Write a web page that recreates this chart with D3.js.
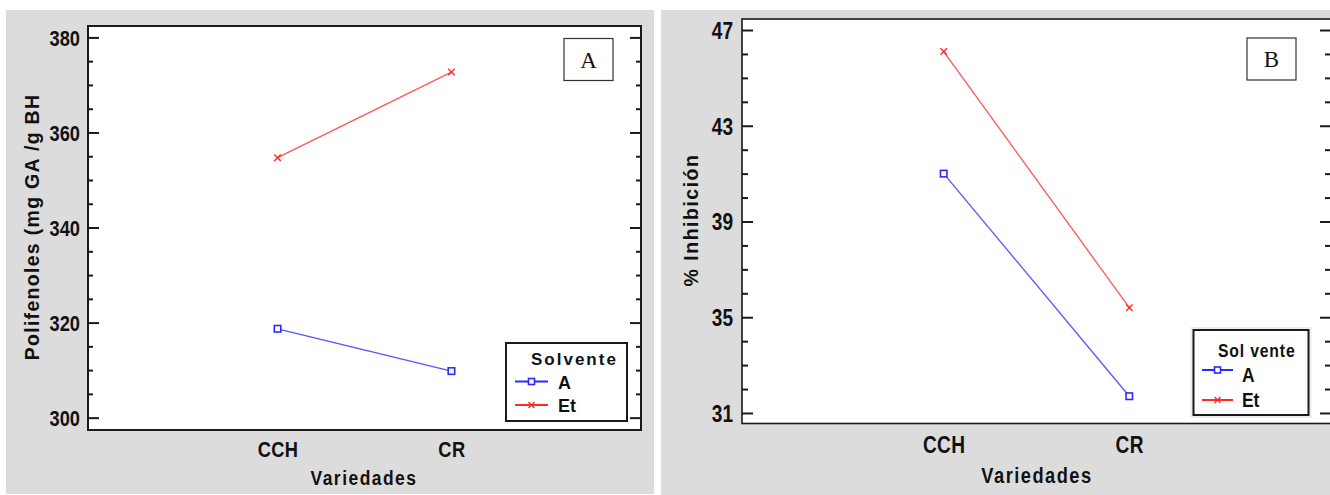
<!DOCTYPE html>
<html>
<head>
<meta charset="utf-8">
<script src="https://cdn.jsdelivr.net/npm/d3@7"></script>
<style>
  html, body { margin: 0; padding: 0; background: #ffffff; }
  svg { display: block; }
  .narrow { font-family: "Liberation Sans", Arial, sans-serif; font-weight: bold; transform-box: fill-box; transform: scaleX(0.83); }
  .nr { transform-origin: right center; }
  .nc { transform-origin: center center; }
  .nl { transform-origin: left center; }
  .wide { font-family: "Liberation Sans", Arial, sans-serif; font-weight: bold; }
</style>
</head>
<body>
<svg id="chart" width="1330" height="495"></svg>
<script>
// ---------- data ----------
const categories = ["CCH", "CR"];
const solventes = ["A", "Et"];
const polifenolesA = [318.7, 309.8];
const polifenolesEt = [354.7, 372.7];
const inhibicionA = [41.0, 31.7];
const inhibicionEt = [46.1, 35.4];
const ticksPolifenoles = [300, 320, 340, 360, 380];
const ticksInhibicion = [31, 35, 39, 43, 47];
const xTitle = "Variedades";
const yTitleA = "Polifenoles (mg GA /g BH";
const yTitleB = "% Inhibición";
const legendTitleA = "Solvente";
const legendTitleB = "Sol vente";
const panelLabels = ["A", "B"];

const colors = { A: "#2a2aff", Et: "#ff2a2a" };
const lineColors = { A: "#5555ff", Et: "#ff5555" };

const svg = d3.select("#chart");

function drawPanel(cfg) {
  const g = svg.append("g");
  g.append("rect").attr("x", cfg.bg[0]).attr("y", cfg.bg[1])
    .attr("width", cfg.bg[2]).attr("height", cfg.bg[3]).attr("fill", "#dcdcdc");

  const f = cfg.frame;
  g.append("rect").attr("x", f.l).attr("y", f.t).attr("width", f.r - f.l).attr("height", f.b - f.t)
    .attr("fill", "#ffffff");

  const x = d3.scalePoint().domain(categories).range([f.l, f.r]).padding(cfg.xPad);
  const y = d3.scaleLinear().domain(cfg.yDomain).range([f.b, f.t]);

  const minorStart = Math.ceil(cfg.yDomain[0] / cfg.minorStep) * cfg.minorStep;
  const minors = d3.range(minorStart, cfg.yDomain[1] + 1e-9, cfg.minorStep).filter(v => !cfg.ticks.includes(v));

  const tickStyle = sel => {
    sel.select(".domain").remove();
    sel.selectAll(".tick line").attr("stroke", "#1a1a1a").attr("stroke-width", 2);
  };
  g.append("g").attr("transform", `translate(${f.l},0)`)
    .call(d3.axisRight(y).tickValues(cfg.ticks).tickSize(cfg.majorLen).tickFormat(""))
    .call(tickStyle);
  g.append("g").attr("transform", `translate(${f.l},0)`)
    .call(d3.axisRight(y).tickValues(minors).tickSize(cfg.minorLen).tickFormat(""))
    .call(tickStyle);
  g.append("g").attr("transform", `translate(${f.r},0)`)
    .call(d3.axisLeft(y).tickValues(cfg.ticks).tickSize(cfg.majorLen).tickFormat(""))
    .call(tickStyle);
  g.append("g").attr("transform", `translate(${f.r},0)`)
    .call(d3.axisLeft(y).tickValues(minors).tickSize(cfg.minorLen).tickFormat(""))
    .call(tickStyle);

  // y labels
  const yl = g.append("g").attr("transform", `translate(${f.l},0)`)
    .call(d3.axisLeft(y).tickValues(cfg.ticks).tickSize(0).tickPadding(cfg.yLabelPad));
  yl.select(".domain").remove();
  yl.selectAll("text").attr("class", "narrow nr").attr("font-size", cfg.tickFont)
    .attr("fill", "#111").attr("dy", "0.36em");

  // x labels
  const xl = g.append("g").attr("transform", `translate(0,${f.b})`)
    .call(d3.axisBottom(x).tickSize(0).tickPadding(0));
  xl.select(".domain").remove();
  xl.selectAll("text").attr("class", "narrow nc").attr("font-size", cfg.catFont)
    .attr("fill", "#111").attr("y", cfg.catY - f.b).attr("dy", 0).attr("letter-spacing", 0.5);
  xl.attr("font-family", null);
  yl.attr("font-family", null);

  // frame
  g.append("rect").attr("x", f.l).attr("y", f.t).attr("width", f.r - f.l).attr("height", f.b - f.t)
    .attr("fill", "none").attr("stroke", "#1a1a1a").attr("stroke-width", cfg.frameW);

  // titles
  g.append("text").attr("class", "narrow nc").attr("x", cfg.xTitle[0]).attr("y", cfg.xTitle[1])
    .attr("text-anchor", "middle").attr("font-size", cfg.xTitleFont).attr("letter-spacing", cfg.xTitleSpacing)
    .attr("fill", "#111").text(xTitle);
  g.append("text").attr("class", "wide")
    .attr("transform", `translate(${cfg.yTitle[0]},${cfg.yTitle[1]}) rotate(-90)`)
    .attr("text-anchor", "middle").attr("font-size", 19.5).attr("letter-spacing", cfg.yTitleSpacing)
    .attr("fill", "#111").text(cfg.yTitleText);

  // panel label box
  const lb = cfg.labelBox;
  g.append("rect").attr("x", lb[0]).attr("y", lb[1]).attr("width", lb[2]).attr("height", lb[3])
    .attr("fill", "#fff").attr("stroke", "#333").attr("stroke-width", 1.2);
  g.append("text").attr("x", lb[0] + lb[2] / 2).attr("y", lb[1] + lb[3] / 2 + 8)
    .attr("text-anchor", "middle").attr("font-family", "'Liberation Serif', 'Times New Roman', serif")
    .attr("font-size", 23).attr("fill", "#111").text(cfg.panelLabel);

  // series
  const series = [
    { key: "A", values: cfg.valuesA },
    { key: "Et", values: cfg.valuesEt }
  ];
  const line = d3.line().x((d, i) => x(categories[i])).y(d => y(d));
  series.forEach(s => {
    g.append("path").datum(s.values).attr("d", line).attr("fill", "none")
      .attr("stroke", lineColors[s.key]).attr("stroke-width", 1.3);
    s.values.forEach((v, i) => drawMarker(g, s.key, x(categories[i]), y(v), 6.5));
  });

  // legend
  const L = cfg.legend;
  if (L.halo) {
    g.append("rect").attr("x", L.box[0] - 3).attr("y", L.box[1] - 3)
      .attr("width", L.box[2] + 6).attr("height", L.box[3] + 6).attr("fill", "#ececec");
  }
  g.append("rect").attr("x", L.box[0]).attr("y", L.box[1]).attr("width", L.box[2]).attr("height", L.box[3])
    .attr("fill", "#fff").attr("stroke", "#1a1a1a").attr("stroke-width", 2);
  g.append("text").attr("class", L.titleClass).attr("x", L.titleX).attr("y", L.titleY)
    .attr("font-size", L.titleFont).attr("letter-spacing", L.titleSpacing).attr("fill", "#111").text(L.title);
  solventes.forEach((k, i) => {
    const ly = L.rowY[i];
    g.append("line").attr("x1", L.lineX[0]).attr("x2", L.lineX[1]).attr("y1", ly).attr("y2", ly)
      .attr("stroke", colors[k]).attr("stroke-width", 2);
    drawMarker(g, k, (L.lineX[0] + L.lineX[1]) / 2, ly, 6);
    g.append("text").attr("class", L.textClass).attr("x", L.textX).attr("y", L.textY[i])
      .attr("font-size", L.textFont).attr("fill", "#111").text(k);
  });
}

function drawMarker(g, key, cx, cy, s) {
  const h = s / 2;
  if (key === "A") {
    g.append("rect").attr("x", cx - h).attr("y", cy - h).attr("width", s).attr("height", s)
      .attr("fill", "#fff").attr("stroke", colors.A).attr("stroke-width", 1.6);
  } else {
    g.append("path").attr("d", `M${cx - h},${cy - h}L${cx + h},${cy + h}M${cx - h},${cy + h}L${cx + h},${cy - h}`)
      .attr("stroke", colors.Et).attr("stroke-width", 1.4);
  }
}

drawPanel({
  bg: [6, 10, 648, 484],
  frame: { l: 88, t: 26, r: 641, b: 430 },
  xPad: 1.09,
  yDomain: [297.4, 382.4],
  ticks: ticksPolifenoles,
  minorStep: 5,
  majorLen: 11, minorLen: 5,
  yLabelPad: 8,
  tickFont: 22,
  catFont: 22,
  catY: 457,
  frameW: 2,
  xTitle: [364, 485], xTitleFont: 21, xTitleSpacing: 1.8,
  yTitle: [39, 227], yTitleText: yTitleA, yTitleSpacing: 1.3,
  labelBox: [564, 38.5, 49, 42],
  panelLabel: panelLabels[0],
  valuesA: polifenolesA, valuesEt: polifenolesEt,
  legend: {
    box: [506, 343, 121, 78], halo: false,
    title: legendTitleA, titleClass: "wide", titleX: 531, titleY: 365, titleFont: 17, titleSpacing: 2,
    lineX: [515, 548], rowY: [381.5, 405],
    textClass: "wide", textX: 558, textY: [389, 412], textFont: 18
  }
});

drawPanel({
  bg: [661, 10, 669, 485],
  frame: { l: 742, t: 19, r: 1331, b: 423.5 },
  xPad: 1.087,
  yDomain: [30.56, 47.46],
  ticks: ticksInhibicion,
  minorStep: 1,
  majorLen: 11, minorLen: 6,
  yLabelPad: 9,
  tickFont: 23,
  catFont: 23,
  catY: 453,
  frameW: 1.6,
  xTitle: [1037, 483], xTitleFont: 22, xTitleSpacing: 1.8,
  yTitle: [698, 220], yTitleText: yTitleB, yTitleSpacing: 1.5,
  labelBox: [1247, 38, 49, 42],
  panelLabel: panelLabels[1],
  valuesA: inhibicionA, valuesEt: inhibicionEt,
  legend: {
    box: [1193.5, 330, 115, 85], halo: true,
    title: legendTitleB, titleClass: "narrow nl", titleX: 1218, titleY: 357, titleFont: 19, titleSpacing: 1,
    lineX: [1202, 1233], rowY: [370, 400],
    textClass: "narrow nl", textX: 1242, textY: [382, 407], textFont: 21
  }
});
</script>
</body>
</html>
